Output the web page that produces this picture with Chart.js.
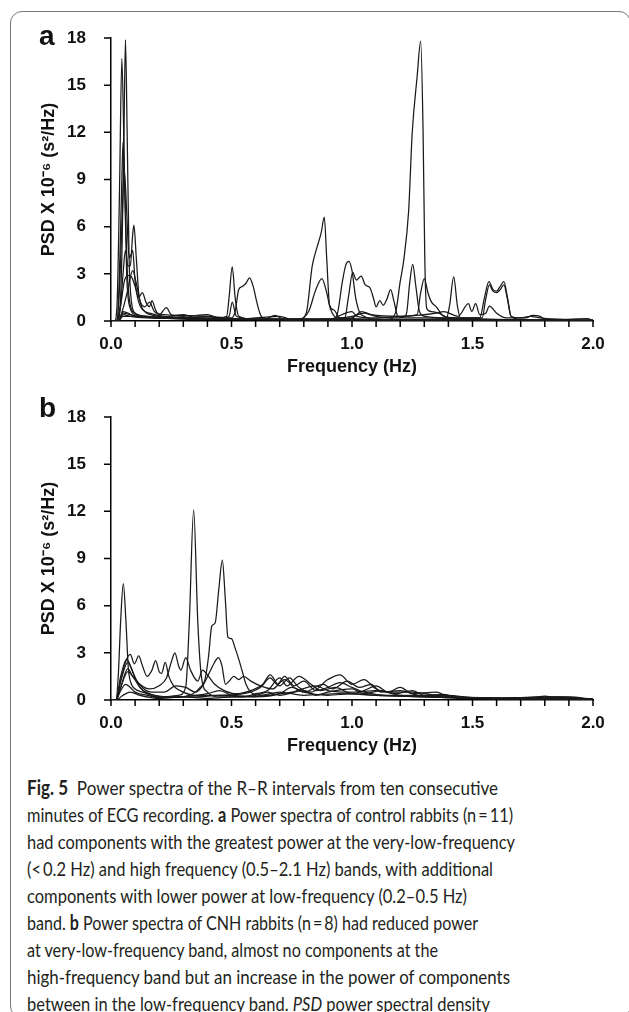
<!DOCTYPE html>
<html>
<head>
<meta charset="utf-8">
<script src="https://cdn.jsdelivr.net/npm/chart.js@4.4.0/dist/chart.umd.min.js"></script>
<style>
  html, body { margin: 0; padding: 0; background: #fff; }
  body { width: 629px; height: 1012px; position: relative; overflow: hidden; }
  .frame { position: absolute; left: 10px; top: 11px; width: 621px; height: 1007px;
           border: 1.5px solid #777; border-radius: 12px; box-sizing: border-box; }
  canvas { position: absolute; left: 0; }
  .panel { position: absolute; left: 39px; font: bold 28px "Liberation Sans", Arial, sans-serif;
           line-height: 28px; color: #111; }
  .caption { position: absolute; left: 27px; top: 774px; font: 20px Lato, "Open Sans", sans-serif;
             line-height: 27px; color: #231f20; }
  .caption div { white-space: nowrap; transform-origin: left center; display: block; width: max-content; }
</style>
</head>
<body>
<div class="frame"></div>
<canvas id="chartA" width="629" height="381" style="top:0px"></canvas>
<canvas id="chartB" width="629" height="381" style="top:379px"></canvas>
<div class="panel" style="top:22px">a</div>
<div class="panel" style="top:394px">b</div>
<div class="caption" id="caption">
  <div><b>Fig. 5</b>&nbsp; Power spectra of the R–R intervals from ten consecutive</div>
  <div>minutes of ECG recording. <b>a</b> Power spectra of control rabbits (n&thinsp;=&thinsp;11)</div>
  <div>had components with the greatest power at the very-low-frequency</div>
  <div>(&lt;&thinsp;0.2 Hz) and high frequency (0.5–2.1 Hz) bands, with additional</div>
  <div>components with lower power at low-frequency (0.2–0.5 Hz)</div>
  <div>band. <b>b</b> Power spectra of CNH rabbits (n&thinsp;=&thinsp;8) had reduced power</div>
  <div>at very-low-frequency band, almost no components at the</div>
  <div>high-frequency band but an increase in the power of components</div>
  <div>between in the low-frequency band. <i>PSD</i> power spectral density</div>
</div>
<script>
// tick labels
const xTickLabels = ['0.0', '0.5', '1.0', '1.5', '2.0'];
const yTickStep = 3;

// panel a - control rabbits, [frequency Hz, PSD]
const ctrl01 = [[0,0],[0.02,0],[0.035,0.5],[0.045,4],[0.053,11],[0.06,17.9],[0.067,12],[0.075,4],[0.085,1.2],[0.1,0.5],[0.13,0.3],[0.18,0.2],[0.25,0.15],[0.35,0.1],[0.45,0.1],[0.49,0.3],[0.503,1.2],[0.52,0.3],[0.6,0.1],[0.8,0.05],[1.0,0.1],[1.2,0.05],[1.5,0.05],[2.0,0]];
const ctrl02 = [[0,0],[0.015,0],[0.025,1],[0.035,8],[0.045,16.7],[0.055,10],[0.065,3],[0.08,0.8],[0.1,0.4],[0.15,0.3],[0.25,0.2],[0.4,0.15],[0.6,0.1],[0.78,0.1],[0.81,0.5],[0.835,3.5],[0.855,4.7],[0.872,5.6],[0.885,6.6],[0.895,4],[0.907,1],[0.925,0.7],[0.95,0.2],[1.1,0.1],[1.5,0.05],[2.0,0]];
const ctrl03 = [[0,0],[0.025,0],[0.035,3],[0.045,9],[0.05,11.4],[0.058,8],[0.068,3],[0.08,1],[0.1,0.5],[0.15,0.3],[0.3,0.2],[0.5,0.1],[0.8,0.1],[1.0,0.1],[1.15,0.1],[1.18,0.5],[1.2,2.5],[1.215,3.9],[1.235,7],[1.25,12],[1.27,15.5],[1.285,17.8],[1.295,12],[1.302,4],[1.31,0.8],[1.33,0.6],[1.36,0.5],[1.4,0.2],[1.5,0.1],[2.0,0.05]];
const ctrl04 = [[0,0],[0.025,0],[0.035,2],[0.045,6],[0.055,9.6],[0.065,7],[0.075,4],[0.085,4.3],[0.09,4.5],[0.1,2.5],[0.115,1.2],[0.14,0.6],[0.2,0.3],[0.3,0.2],[0.5,0.1],[0.8,0.1],[0.92,0.1],[0.94,0.5],[0.96,2.5],[0.975,3.6],[0.987,3.8],[1.0,3.2],[1.015,1.5],[1.03,0.6],[1.05,0.3],[1.1,0.1],[1.5,0.05],[2.0,0]];
const ctrl05 = [[0,0],[0.03,0],[0.04,1],[0.05,3],[0.06,4.5],[0.07,3.5],[0.08,3.5],[0.09,5.5],[0.095,6.1],[0.105,4],[0.115,1.8],[0.13,0.8],[0.16,0.5],[0.22,0.3],[0.35,0.2],[0.5,0.1],[0.8,0.1],[1.2,0.1],[1.39,0.1],[1.405,1],[1.422,2.8],[1.437,1],[1.45,0.2],[1.53,0.2],[1.55,1.5],[1.568,2.5],[1.585,2.0],[1.6,1.9],[1.615,2.2],[1.63,2.5],[1.645,1.5],[1.66,0.3],[1.7,0.1],[2.0,0]];
const ctrl06 = [[0,0],[0.02,0],[0.04,1],[0.055,2.5],[0.07,2.9],[0.085,2.8],[0.1,2.2],[0.115,1.5],[0.13,1.8],[0.145,1.2],[0.16,0.9],[0.17,1.3],[0.185,0.7],[0.2,0.4],[0.23,0.85],[0.25,0.4],[0.3,0.3],[0.4,0.4],[0.45,0.2],[0.48,0.3],[0.49,1.5],[0.503,3.45],[0.515,1.5],[0.53,0.3],[0.6,0.1],[1.0,0.1],[1.5,0.05],[2.0,0.05]];
const ctrl07 = [[0,0],[0.03,0],[0.05,0.8],[0.07,2],[0.09,3.2],[0.105,2.4],[0.12,1.3],[0.14,0.9],[0.16,1.2],[0.18,0.6],[0.22,0.4],[0.3,0.35],[0.4,0.3],[0.5,0.2],[0.515,0.6],[0.53,2.0],[0.545,2.2],[0.56,2.4],[0.575,2.75],[0.59,2.2],[0.605,1.2],[0.62,0.4],[0.64,0.15],[0.68,0.35],[0.72,0.1],[1.0,0.05],[2.0,0]];
const ctrl08 = [[0,0],[0.03,0],[0.05,0.6],[0.07,0.5],[0.1,0.3],[0.15,0.25],[0.25,0.2],[0.4,0.2],[0.6,0.1],[0.9,0.1],[0.97,0.2],[0.985,1.5],[1.003,3.1],[1.018,2.6],[1.038,2.85],[1.055,2.3],[1.075,2.1],[1.09,1.4],[1.1,0.9],[1.115,1.3],[1.13,1.0],[1.145,1.4],[1.16,2.0],[1.175,1.2],[1.19,0.3],[1.22,0.2],[1.3,0.2],[1.5,0.1],[2.0,0.05]];
const ctrl09 = [[0,0],[0.03,0],[0.05,0.5],[0.08,0.4],[0.12,0.3],[0.2,0.25],[0.3,0.2],[0.4,0.3],[0.45,0.15],[0.6,0.1],[0.78,0.1],[0.82,0.6],[0.85,2.0],[0.875,2.7],[0.895,1.8],[0.91,0.8],[0.94,0.2],[1.0,0.3],[1.05,0.5],[1.1,0.3],[1.2,0.2],[1.225,0.4],[1.24,2.5],[1.252,3.6],[1.265,2.2],[1.28,0.6],[1.3,0.3],[1.4,0.2],[1.6,0.1],[2.0,0]];
const ctrl10 = [[0,0],[0.03,0],[0.05,0.4],[0.08,0.3],[0.15,0.2],[0.3,0.15],[0.5,0.1],[0.9,0.1],[1.0,0.6],[1.02,0.3],[1.1,0.2],[1.2,0.3],[1.27,0.4],[1.285,1.8],[1.3,2.7],[1.315,1.8],[1.33,1.2],[1.35,0.9],[1.38,0.3],[1.45,0.2],[1.54,0.2],[1.555,1.4],[1.57,2.3],[1.585,1.9],[1.6,1.8],[1.615,2.0],[1.63,2.3],[1.645,1.4],[1.66,0.3],[1.7,0.2],[1.74,0.3],[1.78,0.2],[2.0,0]];
const ctrl11 = [[0,0],[0.03,0],[0.05,0.3],[0.1,0.3],[0.2,0.2],[0.3,0.4],[0.35,0.2],[0.5,0.1],[0.7,0.3],[0.75,0.1],[1.0,0.2],[1.04,0.6],[1.08,0.4],[1.2,0.3],[1.35,0.5],[1.38,0.6],[1.44,0.3],[1.483,1.1],[1.497,0.6],[1.513,1.1],[1.53,0.4],[1.555,0.5],[1.57,0.95],[1.6,0.5],[1.64,0.2],[1.72,0.2],[1.75,0.35],[1.78,0.3],[1.8,0.1],[1.85,0.1],[1.98,0.15],[2.0,0]];

// panel b - CNH rabbits
const cnh1 = [[0,0],[0.02,0],[0.03,1.5],[0.04,5],[0.051,7.4],[0.062,5],[0.072,2],[0.085,1],[0.1,0.7],[0.13,0.5],[0.18,0.3],[0.25,0.2],[0.35,0.2],[0.45,0.3],[0.55,0.4],[0.62,0.8],[0.66,1.4],[0.69,1.0],[0.72,1.5],[0.76,0.9],[0.8,1.2],[0.85,0.6],[0.9,0.8],[0.95,1.1],[1.0,0.8],[1.05,0.5],[1.15,0.3],[1.25,0.3],[1.4,0.15],[1.6,0.1],[1.8,0.2],[2.0,0.05]];
const cnh2 = [[0,0],[0.02,0],[0.04,1.2],[0.07,2.4],[0.09,1.8],[0.12,0.8],[0.16,0.4],[0.22,0.2],[0.28,0.3],[0.31,0.8],[0.325,5],[0.343,12.1],[0.36,5],[0.375,1.5],[0.4,0.5],[0.45,0.2],[0.55,0.2],[0.65,0.3],[0.75,0.5],[0.85,0.9],[0.9,0.6],[1.0,0.5],[1.1,0.6],[1.2,0.3],[1.4,0.2],[1.7,0.1],[2.0,0.05]];
const cnh3 = [[0,0],[0.02,0],[0.04,0.8],[0.07,1.8],[0.09,1.5],[0.12,0.8],[0.15,0.4],[0.2,0.2],[0.28,0.2],[0.34,0.4],[0.37,0.8],[0.39,1.3],[0.405,2.8],[0.418,4.7],[0.432,4.9],[0.447,7],[0.462,8.9],[0.474,6.5],[0.485,4.0],[0.5,3.9],[0.515,3.3],[0.53,2.6],[0.545,1.8],[0.56,1.0],[0.58,0.5],[0.62,0.3],[0.7,0.5],[0.8,0.3],[0.95,0.4],[1.1,0.3],[1.3,0.2],[1.5,0.1],[2.0,0.05]];
const cnh4 = [[0,0],[0.02,0],[0.04,1.2],[0.06,2.4],[0.08,2.9],[0.097,2.3],[0.115,2.8],[0.13,2.2],[0.15,1.5],[0.17,1.9],[0.185,2.5],[0.2,1.8],[0.21,1.7],[0.225,2.4],[0.24,1.5],[0.26,0.9],[0.3,0.5],[0.35,0.3],[0.4,0.3],[0.5,0.3],[0.6,0.2],[0.7,0.4],[0.75,0.8],[0.8,0.5],[0.9,0.3],[1.0,0.4],[1.1,0.3],[1.3,0.2],[1.5,0.1],[2.0,0.05]];
const cnh5 = [[0,0],[0.02,0],[0.04,0.8],[0.07,2.0],[0.09,1.5],[0.12,1.0],[0.16,0.7],[0.2,0.9],[0.23,1.4],[0.25,2.4],[0.265,3.0],[0.28,2.2],[0.29,1.9],[0.31,2.7],[0.33,1.9],[0.36,1.2],[0.38,1.9],[0.4,1.6],[0.43,1.0],[0.47,0.6],[0.52,0.4],[0.58,0.6],[0.63,1.0],[0.66,1.6],[0.7,0.9],[0.74,1.4],[0.78,0.8],[0.83,0.5],[0.9,1.3],[0.95,1.6],[1.0,1.0],[1.05,1.3],[1.1,0.7],[1.17,0.5],[1.25,0.5],[1.35,0.3],[1.45,0.2],[1.6,0.1],[1.85,0.2],[2.0,0.05]];
const cnh6 = [[0,0],[0.02,0],[0.04,1.5],[0.065,2.6],[0.085,2.0],[0.1,1.4],[0.13,0.8],[0.17,0.5],[0.22,0.5],[0.27,0.9],[0.31,0.8],[0.35,0.5],[0.38,0.9],[0.41,1.8],[0.43,2.4],[0.445,2.7],[0.46,2.2],[0.475,1.0],[0.49,1.2],[0.51,1.5],[0.53,1.3],[0.55,1.5],[0.58,1.2],[0.62,0.9],[0.67,0.7],[0.72,1.3],[0.76,0.8],[0.8,0.5],[0.88,1.0],[0.92,0.7],[0.98,1.2],[1.03,0.8],[1.08,1.0],[1.12,0.5],[1.2,0.6],[1.28,0.3],[1.4,0.3],[1.5,0.15],[1.7,0.1],[2.0,0.05]];
const cnh7 = [[0,0],[0.02,0],[0.04,0.6],[0.06,1.0],[0.08,0.8],[0.1,0.5],[0.15,0.3],[0.2,0.15],[0.3,0.2],[0.4,0.4],[0.45,0.6],[0.5,0.3],[0.55,0.2],[0.6,0.4],[0.65,0.6],[0.7,1.4],[0.73,0.9],[0.78,1.5],[0.83,1.0],[0.87,0.6],[0.93,0.8],[1.0,0.4],[1.05,0.6],[1.1,0.9],[1.15,0.5],[1.2,0.8],[1.25,0.4],[1.35,0.5],[1.4,0.2],[1.55,0.1],[1.75,0.15],[1.8,0.25],[1.85,0.1],[2.0,0.05]];
const cnh8 = [[0,0],[0.02,0],[0.05,0.3],[0.08,0.5],[0.12,0.3],[0.2,0.1],[0.3,0.2],[0.4,0.1],[0.5,0.2],[0.6,0.3],[0.65,0.5],[0.7,0.3],[0.8,0.6],[0.85,0.3],[0.9,0.5],[1.0,0.7],[1.05,0.4],[1.12,0.6],[1.18,0.4],[1.25,0.6],[1.3,0.3],[1.38,0.35],[1.45,0.1],[1.6,0.1],[1.7,0.15],[1.9,0.2],[2.0,0.05]];

const controlSeries = [ctrl01, ctrl02, ctrl03, ctrl04, ctrl05, ctrl06, ctrl07, ctrl08, ctrl09, ctrl10, ctrl11];
const cnhSeries = [cnh1, cnh2, cnh3, cnh4, cnh5, cnh6, cnh7, cnh8];

const boldFont = (size) => ({ family: '"Liberation Sans", Arial, sans-serif', weight: 'bold', size: size });

// small tick marks outside the axes, drawn at the scale's own ticks
const outerTicks = {
  id: 'outerTicks',
  afterDraw(chart) {
    const c = chart.ctx;
    const xs = chart.scales.x;
    const ys = chart.scales.y;
    const area = chart.chartArea;
    c.save();
    c.strokeStyle = '#000';
    c.lineWidth = 1.5;
    c.beginPath();
    xs.ticks.forEach(t => {
      const px = xs.getPixelForValue(t.value);
      c.moveTo(px, area.bottom);
      c.lineTo(px, area.bottom + 6);
    });
    ys.ticks.forEach(t => {
      const py = ys.getPixelForValue(t.value);
      c.moveTo(area.left, py);
      c.lineTo(area.left - 7, py);
    });
    c.stroke();
    c.restore();
  }
};

function makeChart(canvasId, seriesList) {
  const datasets = seriesList.map(series => ({
    data: series.map(p => ({ x: p[0], y: p[1] })),
    borderColor: '#1a1a1a',
    borderWidth: 1.25,
    pointRadius: 0,
    fill: false,
    cubicInterpolationMode: 'monotone'
  }));

  const ctx = document.getElementById(canvasId).getContext('2d');
  return new Chart(ctx, {
    type: 'line',
    data: { datasets: datasets },
    plugins: [outerTicks],
    options: {
      responsive: false,
      animation: false,
      layout: { padding: { left: 38, top: 38, right: 36, bottom: 0 } },
      plugins: { legend: { display: false }, tooltip: { enabled: false } },
      scales: {
        x: {
          type: 'linear',
          min: 0,
          max: 2,
          afterFit: scale => { scale.height = 60; },
          border: { display: true, color: '#000', width: 1.5 },
          grid: { display: false },
          ticks: {
            stepSize: 0.1,
            autoSkip: false,
            maxRotation: 0,
            padding: 5,
            color: '#111',
            font: boldFont(17),
            callback: value => {
              const label = value.toFixed(1);
              return xTickLabels.includes(label) ? label : '';
            }
          },
          title: { display: true, text: 'Frequency (Hz)', color: '#111', font: boldFont(18), padding: { top: 0, bottom: 3 } }
        },
        y: {
          min: 0,
          max: 18,
          afterFit: scale => { scale.width = 73; },
          border: { display: true, color: '#000', width: 1.5 },
          grid: { display: false },
          ticks: { stepSize: yTickStep, padding: 17, color: '#111', font: boldFont(17) },
          title: { display: true, text: 'PSD X 10⁻⁶ (s²/Hz)', color: '#111', font: boldFont(18), padding: 0 }
        }
      }
    }
  });
}

document.addEventListener('DOMContentLoaded', function() {
  makeChart('chartA', controlSeries);
  makeChart('chartB', cnhSeries);

  // squeeze caption lines to the widths of the printed caption
  const lineRights = [498, 513, 515, 493, 467, 478, 438, 510, 490];
  const lines = document.querySelectorAll('#caption div');
  lines.forEach((line, i) => {
    const w = line.getBoundingClientRect().width;
    line.style.transform = 'scaleX(' + ((lineRights[i] - 27) / w) + ')';
  });
});
</script>
</body>
</html>
